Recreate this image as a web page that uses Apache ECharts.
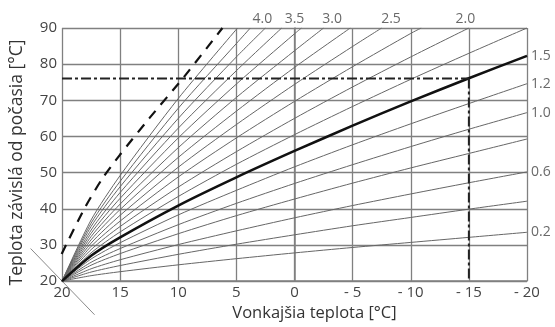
<!DOCTYPE html>
<html>
<head>
<meta charset="utf-8">
<script src="https://cdn.jsdelivr.net/npm/echarts@6/dist/echarts.min.js"></script>
<style>
html,body{margin:0;padding:0;background:#fff;}
#c{width:555px;height:327px;}
</style>
</head>
<body>
<div id="c"></div>
<script>
// Outdoor temperatures at which curve values were read
const xs = [20, 17.5, 15, 10, 5, 0, -5, -10, -15, -20];
const xTicks = [20, 15, 10, 5, 0, -5, -10, -15, -20];
const yTicks = [20, 30, 40, 50, 60, 70, 80, 90];

// Heating curves (flow temperature read at xs); curves that leave the top end at topX
const c01 = [20, 21.5, 22.6, 24.5, 26.2, 27.8, 29.3, 30.7, 32.1, 33.5];
const c02 = [20, 22.5, 24.3, 27.4, 30.2, 32.8, 35.3, 37.6, 39.9, 42.1];
const c03 = [20, 23.4, 25.9, 30.1, 33.9, 37.5, 40.9, 44.1, 47.2, 50.2];
const c04 = [20, 24.4, 27.6, 33.1, 38.1, 42.7, 47.1, 51.3, 55.3, 59.3];
const c05 = [20, 25.2, 29.0, 35.6, 41.5, 47.0, 52.2, 57.2, 62.0, 66.6];
const c06 = [20, 26.1, 30.6, 38.3, 45.1, 51.6, 57.7, 63.5, 69.1, 74.6];
const c07 = [20, 27.0, 32.1, 40.9, 48.7, 56.0, 63.0, 69.7, 76.1, 82.3]; // bold 1.5
const c08 = [20, 27.8, 33.6, 43.4, 52.3, 60.5, 68.3, 75.8, 83.0, 90.0];
const c09 = [20, 28.7, 35.1, 46.0, 55.8, 65.0, 73.7, 82.0, 90.0];
const c10 = [20, 29.6, 36.6, 48.8, 59.6, 69.7, 79.3, 88.5];
const c11 = [20, 30.5, 38.2, 51.5, 63.3, 74.4, 84.9];
const c12 = [20, 31.4, 39.8, 54.2, 67.0, 79.1];
const c13 = [20, 32.3, 41.3, 56.9, 70.8, 83.7];
const c14 = [20, 33.2, 42.9, 59.6, 74.5, 88.4];
const c15 = [20, 34.1, 44.5, 62.3, 78.2];
const c16 = [20, 35.1, 46.1, 65.0, 82.0];
const c17 = [20, 36.0, 47.6, 67.8, 85.7];
const c18 = [20, 36.9, 49.2, 70.5];
const topX = {c10: -10.9, c11: -7.5, c12: -4.8, c13: -2.5, c14: -0.6, c15: 1.1, c16: 2.5, c17: 3.8, c18: 4.9};

// Dashed limit curve
const dashX = [20.7, 19.5, 18, 16.5, 15, 12.5, 9.5, 6.2];
const dashY = [23, 31, 40.5, 48.5, 55, 65, 76.5, 90];

// Design point marker (dash-dot)
const markX = -15;
const markY = 76;

// Diagonal room-temperature line at the origin
const diagX = [22.7, 17.2];
const diagY = [29, 10.7];

// Curve labels
const topLabels = ['4.0', '3.5', '3.0', '2.5', '2.0'];
const topLabelX = [2.76, 0.0, -3.24, -8.3, -14.7];
const rightLabels = ['1.5', '1.2', '1.0', '0.6', '0.2'];
const rightLabelY = [82.3, 74.6, 66.6, 50.2, 33.5];

const FONT = '"Open Sans", sans-serif';
const curves = {c01,c02,c03,c04,c05,c06,c07,c08,c09,c10,c11,c12,c13,c14,c15,c16,c17,c18};

const series = [];
Object.keys(curves).forEach(function (key) {
  const ys = curves[key];
  const data = ys.map(function (y, i) { return [xs[i], y]; });
  if (topX[key] !== undefined) data.push([topX[key], 90]);
  const bold = key === 'c07';
  series.push({
    type: 'line', data: data, smooth: 0.25, symbol: 'none', silent: true,
    lineStyle: bold ? {color: '#111', width: 2.6} : {color: '#666', width: 1},
    z: bold ? 5 : 3
  });
});

series.push({
  type: 'line', data: dashX.map(function (x, i) { return [x, dashY[i]]; }), smooth: 0.25, symbol: 'none', clip: false,
  lineStyle: {color: '#111', width: 2.2, type: [10, 8]}, z: 6
});
series.push({
  type: 'line', data: [[xTicks[0], markY], [markX, markY]], symbol: 'none',
  lineStyle: {color: '#222', width: 2, type: [10, 3, 3, 3]}, z: 6
});
series.push({
  type: 'line', data: [[markX, markY], [markX, yTicks[0]]], symbol: 'none',
  lineStyle: {color: '#222', width: 2, type: [10, 3, 3, 3]}, z: 6
});
series.push({
  type: 'scatter', symbolSize: 0, clip: false,
  data: topLabels.map(function (t, i) { return {name: t, value: [topLabelX[i], 90]}; }),
  label: {show: true, position: 'top', distance: 2, formatter: '{b}', color: '#444', fontSize: 14, fontFamily: FONT}
});
series.push({
  type: 'scatter', symbolSize: 0, clip: false,
  data: rightLabels.map(function (t, i) { return {name: t, value: [xTicks[xTicks.length - 1], rightLabelY[i]]}; }),
  label: {show: true, position: 'right', distance: 4, formatter: '{b}', color: '#444', fontSize: 14, fontFamily: FONT}
});

const chart = echarts.init(document.getElementById('c'), null, {renderer: 'canvas'});
chart.setOption({
  backgroundColor: '#fff',
  animation: false,
  grid: {left: 62, right: 28, top: 28, bottom: 41, containLabel: false},
  xAxis: {
    type: 'value', inverse: true, min: xTicks[xTicks.length - 1], max: xTicks[0], interval: 5,
    name: 'Vonkajšia teplota [°C]', nameLocation: 'middle', nameGap: 23,
    nameTextStyle: {color: '#333', fontSize: 16.5, fontFamily: FONT, padding: [0, 0, 0, 40]},
    axisLine: {show: true, lineStyle: {color: '#808080', width: 1.5}},
    axisTick: {show: false},
    axisLabel: {color: '#444', fontSize: 15, fontFamily: FONT, margin: 4,
      formatter: function (v) { return v < 0 ? '- ' + Math.abs(v) : String(v); }},
    splitLine: {show: true, lineStyle: {color: '#808080', width: 1.3}}
  },
  yAxis: {
    type: 'value', min: yTicks[0], max: yTicks[yTicks.length - 1], interval: 10,
    name: 'Teplota závislá od počasia [°C]', nameLocation: 'middle', nameGap: 36,
    nameTextStyle: {color: '#333', fontSize: 17.5, fontFamily: FONT, padding: [0, 16, 0, 0]},
    axisLine: {show: true, lineStyle: {color: '#808080', width: 1.5}},
    axisTick: {show: false},
    axisLabel: {color: '#444', fontSize: 15, fontFamily: FONT, margin: 5},
    splitLine: {show: true, lineStyle: {color: '#808080', width: 1.3}}
  },
  series: series
});

// Diagonal line partly outside the grid: positioned through the chart's own scales
const diagPts = diagX.map(function (x, i) { return chart.convertToPixel({gridIndex: 0}, [x, diagY[i]]); });
chart.setOption({
  graphic: [{
    type: 'polyline', silent: true, z: 2,
    shape: {points: diagPts},
    style: {stroke: '#8a8a8a', lineWidth: 1, fill: null}
  }]
});
</script>
</body>
</html>
